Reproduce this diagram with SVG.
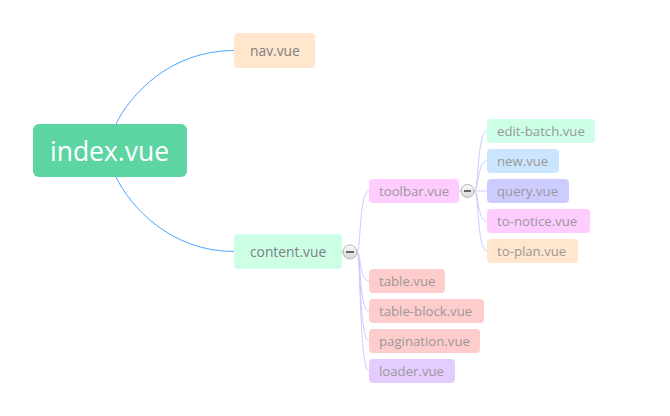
<svg xmlns="http://www.w3.org/2000/svg" width="670" height="416" viewBox="0 0 670 416">
<style>
text{font-family:"Open Sans","Noto Sans","Liberation Sans",sans-serif;}
.t1{font-size:13.8px;fill:#808080;}
.t2{font-size:13.2px;fill:#999999;}
.root{font-size:28px;fill:#ffffff;}
.main{fill:none;stroke:#4da3ff;stroke-width:1;}
.sub{fill:none;stroke:#ccccff;stroke-width:1;}
.lnk{fill:none;stroke:#4da3ff;stroke-width:1;}
.btn{fill:url(#bg);stroke:#b5b5b5;stroke-width:1;}
.minus{stroke:#666;stroke-width:2;}
</style>
<defs>
<linearGradient id="bg" x1="0" y1="0" x2="0" y2="1">
<stop offset="0" stop-color="#fbfbfb"/>
<stop offset="1" stop-color="#d6d6d6"/>
</linearGradient>
</defs>
<rect width="670" height="416" fill="#ffffff"/>
<g id="connectors">
<path class="main" d="M116,124 C130,95 170,50.5 234,50.5"/>
<path class="main" d="M116,177 C130,206 170,251.5 234,251.5"/>
<path class="lnk" d="M342,251.5 L358,251.5"/>
<path class="sub" d="M357,251.5 C361,251.5 359,191 369,191"/>
<path class="sub" d="M357,251.5 C361,251.5 359,281 369,281"/>
<path class="sub" d="M357,251.5 C361,251.5 359,311 369,311"/>
<path class="sub" d="M357,251.5 C361,251.5 359,341 369,341"/>
<path class="sub" d="M357,251.5 C361,251.5 359,371 369,371"/>
<path class="sub" d="M459,191 L474,191"/>
<path class="sub" d="M474,191 C479,191 477,131 487,131"/>
<path class="sub" d="M474,191 C479,191 477,161 487,161"/>
<path class="sub" d="M474,191 L487,191"/>
<path class="sub" d="M474,191 C479,191 477,221 487,221"/>
<path class="sub" d="M474,191 C479,191 477,251 487,251"/>
</g>
<g id="index">
<rect x="33" y="124" width="154" height="53" rx="6" fill="#5dd5a3"/>
<text class="root" x="50" y="160.5" textLength="119" lengthAdjust="spacingAndGlyphs">index.vue</text>
</g>
<g id="nav">
<rect x="234" y="33" width="81" height="35" rx="4" fill="#ffe6cc"/>
<text class="t1" x="250" y="55.5">nav.vue</text>
</g>
<g id="content">
<rect x="234" y="234" width="108" height="35" rx="4" fill="#ccffe6"/>
<text class="t1" x="250" y="256.5">content.vue</text>
</g>
<g id="content-toggle">
<circle class="btn" cx="350" cy="252" r="7"/>
<line class="minus" x1="346" y1="252" x2="354" y2="252"/>
</g>
<g id="toolbar">
<rect x="369" y="179" width="90" height="24" rx="4" fill="#ffccff"/>
<text class="t2" x="379" y="196">toolbar.vue</text>
</g>
<g id="toolbar-toggle">
<circle class="btn" cx="467.5" cy="191" r="6.5"/>
<line class="minus" x1="464" y1="191" x2="471" y2="191"/>
</g>
<g id="edit-batch">
<rect x="487" y="119" width="108" height="24" rx="4" fill="#ccffe6"/>
<text class="t2" x="497" y="136">edit-batch.vue</text>
</g>
<g id="new">
<rect x="487" y="149" width="72" height="24" rx="4" fill="#cce5ff"/>
<text class="t2" x="497" y="166">new.vue</text>
</g>
<g id="query">
<rect x="487" y="179" width="82" height="24" rx="4" fill="#ccccff"/>
<text class="t2" x="497" y="196">query.vue</text>
</g>
<g id="to-notice">
<rect x="487" y="209" width="103" height="24" rx="4" fill="#ffccff"/>
<text class="t2" x="497" y="226">to-notice.vue</text>
</g>
<g id="to-plan">
<rect x="487" y="239" width="91" height="24" rx="4" fill="#ffe6cc"/>
<text class="t2" x="497" y="256">to-plan.vue</text>
</g>
<g id="table">
<rect x="369" y="269" width="76" height="24" rx="4" fill="#ffcccc"/>
<text class="t2" x="379" y="286">table.vue</text>
</g>
<g id="table-block">
<rect x="369" y="299" width="115" height="24" rx="4" fill="#ffcccc"/>
<text class="t2" x="379" y="316">table-block.vue</text>
</g>
<g id="pagination">
<rect x="369" y="329" width="111" height="24" rx="4" fill="#ffcccc"/>
<text class="t2" x="379" y="346">pagination.vue</text>
</g>
<g id="loader">
<rect x="369" y="359" width="86" height="24" rx="4" fill="#e5ccff"/>
<text class="t2" x="379" y="376">loader.vue</text>
</g>
</svg>
